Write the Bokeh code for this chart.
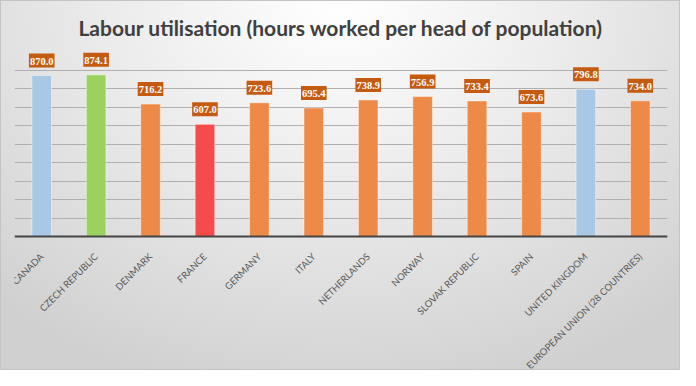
from bokeh.plotting import figure
from bokeh.models import ColumnDataSource, FactorRange, Range1d, FixedTicker
from bokeh.core.properties import value
from bokeh.embed import file_html
from bokeh.resources import INLINE
import math

countries = ["CANADA", "CZECH REPUBLIC", "DENMARK", "FRANCE", "GERMANY", "ITALY",
             "NETHERLANDS", "NORWAY", "SLOVAK REPUBLIC", "SPAIN", "UNITED KINGDOM",
             "EUROPEAN UNION (28 COUNTRIES)"]
hours = [870.0, 874.1, 716.2, 607.0, 723.6, 695.4, 738.9, 756.9, 733.4, 673.6, 796.8, 734.0]
bar_colors = ["#A8C8E6", "#9BD25F", "#EE8A47", "#F64B4B", "#EE8A47", "#EE8A47",
              "#EE8A47", "#EE8A47", "#EE8A47", "#EE8A47", "#A8C8E6", "#EE8A47"]
grid_values = [100, 200, 300, 400, 500, 600, 700, 800, 900, 1000]

src = ColumnDataSource(dict(country=countries, hours=hours, color=bar_colors,
                            label=[f"{v:.1f}" for v in hours]))

# y range extends below zero so the rotated category labels sit inside the frame
p = figure(width=680, height=370, output_backend="svg", toolbar_location=None,
           x_range=FactorRange(factors=countries, range_padding=0),
           y_range=Range1d(-710, 1000),
           title="Labour utilisation (hours worked per head of population)")

p.min_border_left = 14
p.min_border_right = 13
p.min_border_top = 50
p.min_border_bottom = 2

p.border_fill_alpha = 0
p.background_fill_alpha = 0
p.outline_line_color = None
p.styles = {
    "background": "radial-gradient(ellipse 75% 110% at 50% 0%, #ffffff 0%, #ececec 45%, #d0d0d0 100%)",
    "box-shadow": "inset 0 0 0 1px #c4c4c4",
}

p.title.align = "center"
p.title.text_font = "Lato"
p.title.text_font_size = "21px"
p.title.text_font_style = "bold"
p.title.text_color = "#404040"
p.title.standoff = 24

p.vbar(x="country", top="hours", width=0.36, fill_color="color",
       line_color="white", line_alpha=0.45, line_width=1, source=src)

p.text(x="country", y="hours", text="label", source=src,
       text_align="center", text_baseline="bottom", y_offset=-8,
       text_color="white", text_font=value("Liberation Sans Narrow"), text_font_style="bold",
       text_font_size="10.5px",
       background_fill_color="#C55A11",
       padding=dict(left=1, right=1, top=4, bottom=3))

p.yaxis.visible = False
p.ygrid.ticker = FixedTicker(ticks=grid_values)
p.ygrid.grid_line_color = "#afafaf"
p.ygrid.grid_line_width = 1
p.xgrid.grid_line_color = None

ax = p.xaxis[0]
ax.fixed_location = 0
ax.axis_line_color = "#454545"
ax.axis_line_width = 2
ax.major_tick_line_color = None
ax.minor_tick_line_color = None
ax.major_label_orientation = math.pi / 4
ax.major_label_text_font = "Lato"
ax.major_label_text_font_size = "9.5px"
ax.major_label_text_color = "#595959"
ax.major_label_standoff = 12

open("out.html", "w").write(file_html(p, INLINE))
